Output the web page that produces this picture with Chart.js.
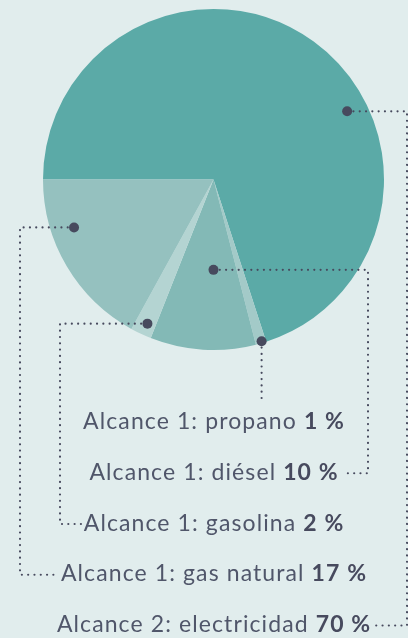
<!DOCTYPE html>
<html>
<head>
<meta charset="utf-8">
<script src="https://cdn.jsdelivr.net/npm/chart.js@4"></script>
<style>
  html, body { margin: 0; padding: 0; background: #e1eded; }
  #wrap { width: 408px; height: 638px; }
</style>
</head>
<body>
<div id="wrap"><canvas id="pie"></canvas></div>
<script>
// datos
const sliceLabels = ['Alcance 2: electricidad', 'Alcance 1: propano', 'Alcance 1: diésel', 'Alcance 1: gasolina', 'Alcance 1: gas natural'];
const sliceValues = [70, 1, 10, 2, 17];
const sliceColors = ['#5baaa7', '#a3cac8', '#83b9b6', '#b4d4d2', '#95c1bf'];

// orden de las etiquetas (de arriba abajo) -> índice de la porción
const rowOrder = [1, 2, 3, 4, 0];

// estilo de las llamadas
const markerPos = [[0.607, 0.88], [0.4, 0.99], [0.4, 0.53], [0.42, 0.93], [0.69, 0.865]]; // fracción de ángulo, fracción de radio
const elbowX = [407, null, 368, 60, 20];
const firstBaseline = 429;
const rowStep = 50.75;
const ink = '#474a5e';

const callouts = {
  id: 'callouts',
  afterDraw(chart) {
    const ctx = chart.ctx;
    const arcs = chart.getDatasetMeta(0).data;
    const cx = arcs[0].x;
    const font = '23px Lato';
    const bold = 'bold 23px Lato';

    // textos
    const ends = {};
    ctx.save();
    ctx.letterSpacing = '1.1px';
    rowOrder.forEach((idx, row) => {
      const a = sliceLabels[idx] + ' ';
      const b = sliceValues[idx] + ' %';
      ctx.font = font;
      const wa = ctx.measureText(a).width;
      ctx.font = bold;
      const wb = ctx.measureText(b).width - 1.1;
      const x0 = cx - (wa + wb) / 2;
      const y = firstBaseline + rowStep * row;
      ctx.textBaseline = 'alphabetic';
      ctx.textAlign = 'left';
      ctx.font = font;
      ctx.fillStyle = '#50566a';
      ctx.fillText(a, x0, y);
      ctx.font = bold;
      ctx.fillStyle = ink;
      ctx.fillText(b, x0 + wa, y);
      ends[idx] = { left: x0, right: x0 + wa + wb, y: y };
    });
    ctx.restore();

    // puntos y líneas
    const dots = arcs.map((arc, i) => {
      const p = arc.getProps(['x', 'y', 'startAngle', 'endAngle', 'outerRadius'], true);
      const ang = p.startAngle + (p.endAngle - p.startAngle) * markerPos[i][0];
      const r = p.outerRadius * markerPos[i][1];
      return { x: p.x + Math.cos(ang) * r, y: p.y + Math.sin(ang) * r };
    });

    ctx.save();
    ctx.strokeStyle = ink;
    ctx.lineWidth = 2.2;
    ctx.lineCap = 'round';
    ctx.setLineDash([0, 6.3]);
    dots.forEach((d, i) => {
      const t = ends[i];
      const ly = t.y - 6.5;
      ctx.beginPath();
      ctx.moveTo(d.x, d.y);
      if (elbowX[i] == null) {
        ctx.lineTo(d.x, t.y - 26);
      } else {
        ctx.lineTo(elbowX[i], d.y);
        ctx.lineTo(elbowX[i], ly);
        if (elbowX[i] > d.x) ctx.lineTo(t.right + 6, ly);
        else ctx.lineTo(t.left - 2, ly);
      }
      ctx.stroke();
    });
    ctx.restore();

    ctx.fillStyle = ink;
    dots.forEach(d => {
      ctx.beginPath();
      ctx.arc(d.x, d.y, 5, 0, Math.PI * 2);
      ctx.fill();
    });
  }
};

new Chart(document.getElementById('pie'), {
  type: 'pie',
  data: {
    labels: sliceLabels,
    datasets: [{
      data: sliceValues,
      backgroundColor: sliceColors,
      borderWidth: 0,
      hoverOffset: 0
    }]
  },
  options: {
    responsive: true,
    maintainAspectRatio: false,
    animation: false,
    rotation: 270,
    layout: { padding: { left: 43, right: 24, top: 9, bottom: 288 } },
    plugins: {
      legend: { display: false },
      tooltip: { enabled: false }
    }
  },
  plugins: [callouts]
});
</script>
</body>
</html>
